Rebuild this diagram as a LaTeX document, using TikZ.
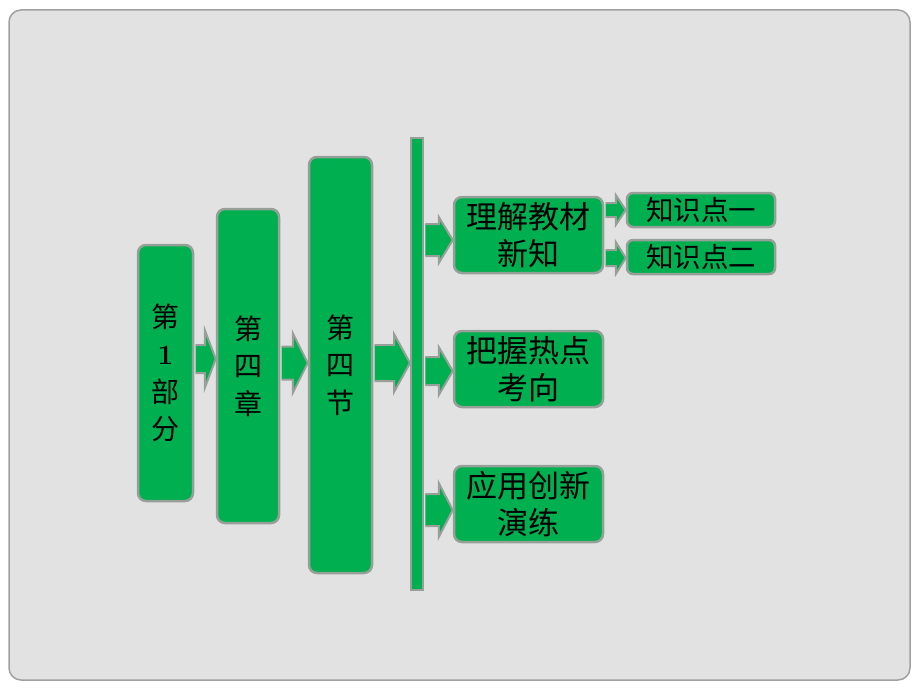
\documentclass[tikz,border=0pt]{standalone}
\usepackage{fontspec}
\usepackage{tikz}
\usetikzlibrary{calc}
\newfontfamily\cjk{Noto Sans CJK SC}
\definecolor{boxgreen}{RGB}{0,176,80}
\definecolor{boxgray}{RGB}{150,160,152}
\definecolor{panelgray}{RGB}{226,226,226}
\definecolor{panelline}{RGB}{160,160,160}

% block arrow: from, to, shaft half height, head half height, head length
\newcommand{\flowarrow}[5]{%
  \filldraw[flow] let \p1=($(#1)+(1.3,0)$), \p2=(#2) in
    (\x1,\y1+#3pt) -- (\x2-#5pt,\y1+#3pt) -- (\x2-#5pt,\y1+#4pt) -- (\x2,\y1)
    -- (\x2-#5pt,\y1-#4pt) -- (\x2-#5pt,\y1-#3pt) -- (\x1,\y1-#3pt);
}

\begin{document}
\begin{tikzpicture}[x=1pt,y=-1pt]
        \tikzset{part/.style = {draw=boxgray,line width=2.5pt,fill=boxgreen,rounded corners=8pt,
                 inner sep=0pt,align=center,font=\cjk\fontsize{28}{37.5}\selectfont}}
        \tikzset{topic/.style = {part,font=\cjk\fontsize{31}{37}\selectfont}}
        \tikzset{point/.style = {part,rounded corners=6pt,font=\cjk\fontsize{27.5}{34}\selectfont}}
        \tikzset{bar/.style = {draw=boxgray,line width=2pt,fill=boxgreen}}
        \tikzset{flow/.style = {draw=boxgray,line width=2pt,fill=boxgreen,line join=miter}}

        \fill[white] (0,0) rectangle (920,690);
        \draw[fill=panelgray,draw=panelline,line width=1.5pt,rounded corners=12pt] (9,10) rectangle (910,680);

        \node[part,minimum width=55,minimum height=256] (B1) at (165.5,373) {第\\{\rmfamily\bfseries 1}\\部\\分};
        \node[part,minimum width=62,minimum height=314] (B2) at (248,366) {第\\四\\章};
        \node[part,minimum width=63,minimum height=416] (B3) at (340.5,365) {第\\四\\节};
        \node[bar,minimum width=12,minimum height=452,inner sep=0pt] (Bar) at (417,364) {};

        \node[topic,minimum width=149,minimum height=76] (T1) at (528.5,235) {理解教材\\新知};
        \node[topic,minimum width=149,minimum height=76] (T2) at (528.5,369) {把握热点\\考向};
        \node[topic,minimum width=149,minimum height=76] (T3) at (528.5,504) {应用创新\\演练};

        \node[point,minimum width=148,minimum height=34] (P1) at (701,210) {知识点一};
        \node[point,minimum width=148,minimum height=34] (P2) at (701,257) {知识点二};

        \flowarrow{B1.east |- 0,359}{B2.west |- 0,359}{14}{29}{11}
        \flowarrow{B2.east |- 0,363}{B3.west |- 0,363}{16.5}{30}{15}
        \flowarrow{B3.east |- 0,363}{Bar.west |- 0,363}{18}{29}{16}

        \flowarrow{Bar.east |- 0,240}{T1.west |- 0,240}{16}{23}{14}
        \flowarrow{Bar.east |- 0,371}{T2.west |- 0,371}{14}{24}{14}
        \flowarrow{Bar.east |- 0,510}{T3.west |- 0,510}{16}{27}{14}

        \flowarrow{T1.east |- 0,210}{P1.west |- 0,210}{7}{15}{10}
        \flowarrow{T1.east |- 0,258}{P2.west |- 0,258}{8}{16}{10}
\end{tikzpicture}
\end{document}
